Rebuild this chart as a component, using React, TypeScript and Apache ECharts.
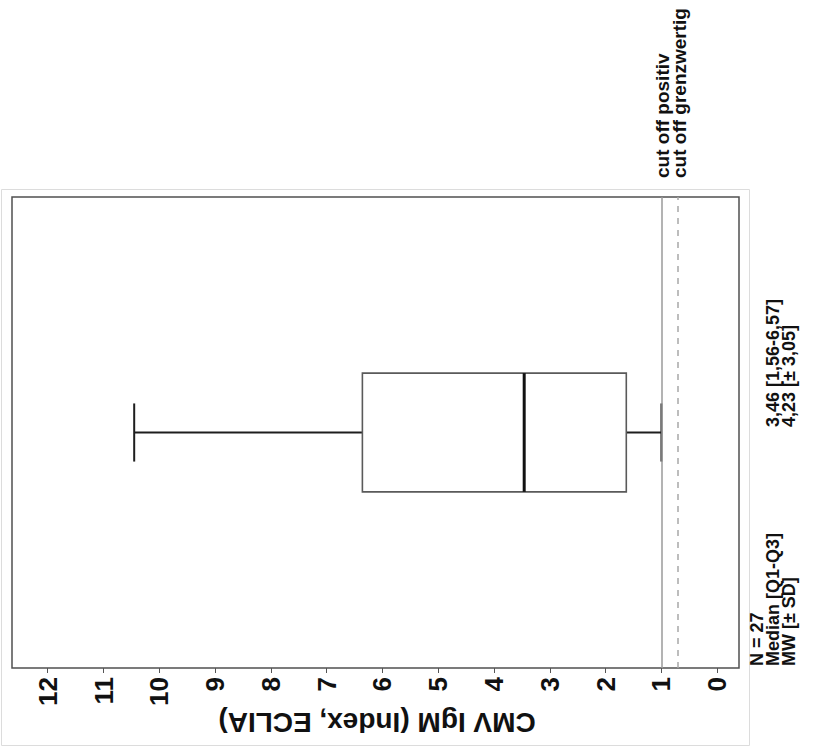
import React, { useEffect, useRef } from "react";
import * as echarts from "echarts";

// Box-plot statistics: [lower whisker, lower hinge, median, upper hinge, upper whisker]
const categories = ["CMV IgM"];
const lowerWhisker = [1.0];
const lowerHinge = [1.63];
const medianValue = [3.46];
const upperHinge = [6.36];
const upperWhisker = [10.45];

// Reference lines
const cutoffPositive = 1.0;
const cutoffBorderline = 0.7;

// Axis
const tickValues = [0, 1, 2, 3, 4, 5, 6, 7, 8, 9, 10, 11, 12];
const axisMin = -0.39;
const axisMax = 12.64;
const axisTitle = "CMV IgM (Index, ECLIA)";

// Summary texts
const cutoffLabels = ["cut off positiv", "cut off grenzwertig"];
const statLabels = ["N = 27", "Median [Q1-Q3]", "MW [± SD]"];
const statValues = ["", "3,46 [1,56-6,57]", "4,23 [± 3,05]"];

const FONT = "'Liberation Sans', Arial, sans-serif";

export default function App() {
  const ref = useRef<HTMLDivElement>(null);

  useEffect(() => {
    if (!ref.current) return;
    const chart = echarts.init(ref.current, null, { renderer: "svg" });

    const boxData = categories.map((_, i) => [
      i,
      lowerWhisker[i],
      lowerHinge[i],
      medianValue[i],
      upperHinge[i],
      upperWhisker[i],
    ]);

    const textStyleBase = {
      fontFamily: FONT,
      fontWeight: "bold",
      fill: "#111",
    };

    const graphics: any[] = [
      {
        type: "rect",
        shape: { x: 1.5, y: 189.5, width: 748, height: 556 },
        style: { fill: "none", stroke: "#dcdcdc", lineWidth: 1 },
        silent: true,
        z: -1,
      },
      {
        type: "text",
        x: 377,
        y: 722,
        rotation: Math.PI,
        style: {
          ...textStyleBase,
          text: axisTitle,
          fontSize: 28,
          align: "center",
          verticalAlign: "middle",
        },
      },
    ];

    // Cut-off captions, reading bottom to top above the frame
    const cutoffX = [662, 679];
    cutoffLabels.forEach((t, i) => {
      graphics.push({
        type: "text",
        x: cutoffX[i],
        y: 178,
        rotation: Math.PI / 2,
        style: {
          ...textStyleBase,
          text: t,
          fontSize: 19,
          align: "left",
          verticalAlign: "middle",
        },
      });
    });

    // Summary statistics to the right of the frame
    const statX = [757, 773, 789];
    statLabels.forEach((t, i) => {
      graphics.push({
        type: "text",
        x: statX[i],
        y: 666,
        rotation: Math.PI / 2,
        style: {
          ...textStyleBase,
          text: t,
          fontSize: 18,
          align: "left",
          verticalAlign: "middle",
        },
      });
      if (statValues[i]) {
        graphics.push({
          type: "text",
          x: statX[i],
          y: 427,
          rotation: Math.PI / 2,
          style: {
            ...textStyleBase,
            text: statValues[i],
            fontSize: 18,
            align: "left",
            verticalAlign: "middle",
          },
        });
      }
    });

    chart.setOption({
      animation: false,
      backgroundColor: "#ffffff",
      grid: {
        left: 12,
        right: 85,
        top: 197,
        bottom: 81,
        show: true,
        borderColor: "#505050",
        borderWidth: 1.5,
        backgroundColor: "transparent",
      },
      xAxis: {
        type: "value",
        inverse: true,
        min: axisMin,
        max: axisMax,
        axisLine: { show: false },
        splitLine: { show: false },
        axisTick: {
          show: true,
          length: 5,
          lineStyle: { color: "#555", width: 1 },
          customValues: tickValues,
        },
        axisLabel: {
          customValues: tickValues,
          rotate: 90,
          margin: 9,
          fontSize: 26,
          fontWeight: "bold",
          fontFamily: FONT,
          color: "#111",
        },
      },
      yAxis: {
        type: "category",
        data: categories,
        show: false,
      },
      series: [
        {
          type: "line",
          data: [],
          z: 1,
          markLine: {
            silent: true,
            symbol: "none",
            label: { show: false },
            data: [
              {
                xAxis: cutoffPositive,
                lineStyle: { color: "#9a9a9a", width: 1.5, type: "solid" },
              },
              {
                xAxis: cutoffBorderline,
                lineStyle: { color: "#a8a8a8", width: 1.5, type: [6, 6] },
              },
            ],
          },
        },
        {
          type: "custom",
          z: 3,
          data: boxData,
          encode: { x: [1, 2, 3, 4, 5], y: 0 },
          renderItem: (params: any, api: any) => {
            const cat = api.value(0);
            const band = api.size([0, 1])[1];
            const boxHalf = band * 0.126;
            const capHalf = band * 0.0617;
            const pLw = api.coord([api.value(1), cat]);
            const pQ1 = api.coord([api.value(2), cat]);
            const pMed = api.coord([api.value(3), cat]);
            const pQ3 = api.coord([api.value(4), cat]);
            const pUw = api.coord([api.value(5), cat]);
            const cy = pMed[1];
            const whisk = { stroke: "#1e1e1e", lineWidth: 2 };
            return {
              type: "group",
              children: [
                {
                  type: "line",
                  shape: { x1: pLw[0], y1: cy, x2: pQ1[0], y2: cy },
                  style: whisk,
                },
                {
                  type: "line",
                  shape: { x1: pQ3[0], y1: cy, x2: pUw[0], y2: cy },
                  style: whisk,
                },
                {
                  type: "line",
                  shape: { x1: pLw[0], y1: cy - capHalf, x2: pLw[0], y2: cy + capHalf },
                  style: whisk,
                },
                {
                  type: "line",
                  shape: { x1: pUw[0], y1: cy - capHalf, x2: pUw[0], y2: cy + capHalf },
                  style: whisk,
                },
                {
                  type: "rect",
                  shape: {
                    x: Math.min(pQ1[0], pQ3[0]),
                    y: cy - boxHalf,
                    width: Math.abs(pQ1[0] - pQ3[0]),
                    height: boxHalf * 2,
                  },
                  style: { fill: "#ffffff", stroke: "#5a5a5a", lineWidth: 1.6 },
                },
                {
                  type: "line",
                  shape: { x1: pMed[0], y1: cy - boxHalf, x2: pMed[0], y2: cy + boxHalf },
                  style: { stroke: "#111", lineWidth: 3 },
                },
              ],
            };
          },
        },
      ],
      graphic: graphics,
    });

    return () => chart.dispose();
  }, []);

  return (
    <div
      ref={ref}
      style={{ position: "fixed", left: 0, top: 0, width: 824, height: 749 }}
    />
  );
}
